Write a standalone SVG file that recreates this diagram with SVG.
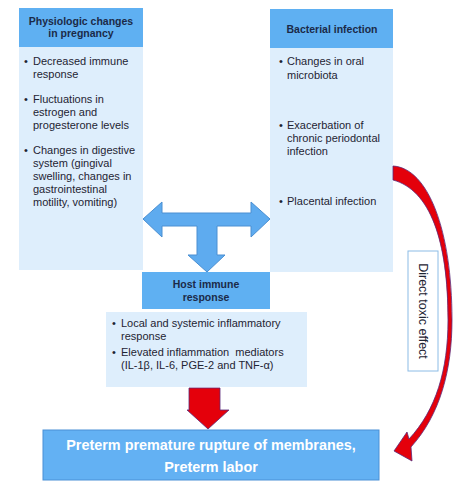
<svg xmlns="http://www.w3.org/2000/svg" width="474" height="491" viewBox="0 0 474 491">
<style>
.hdr{fill:#5fb0f2}
.body{fill:#deeefc}
.ht{font-family:"Liberation Sans",Arial,sans-serif;font-weight:bold;font-size:10.5px;fill:#1b2a48;text-anchor:middle}
.bt{font-family:"Liberation Sans",Arial,sans-serif;font-size:11px;fill:#1e2433}
.blue{fill:#5eabef;stroke:#4a8fd2;stroke-width:1}
.red{fill:#e4000b;stroke:#5a2a78;stroke-width:0.8}
</style>
<rect width="474" height="491" fill="#ffffff"/>
<g id="physiologic">
<rect class="hdr" x="19" y="8" width="124" height="39"/>
<rect class="body" x="19" y="47" width="124" height="223"/>
<text class="ht" x="81" y="25" font-size="10">Physiologic changes</text>
<text class="ht" x="81" y="37">in pregnancy</text>
<g class="bt">
<text x="24" y="65">•</text><text x="33" y="65">Decreased immune</text>
<text x="33" y="78">response</text>
<text x="24" y="103">•</text><text x="33" y="103">Fluctuations in</text>
<text x="33" y="116">estrogen and</text>
<text x="33" y="129">progesterone levels</text>
<text x="24" y="154">•</text><text x="33" y="154">Changes in digestive</text>
<text x="33" y="167">system (gingival</text>
<text x="33" y="180">swelling, changes in</text>
<text x="33" y="193">gastrointestinal</text>
<text x="33" y="206">motility, vomiting)</text>
</g>
</g>
<g id="bacterial">
<rect class="hdr" x="270" y="9" width="123" height="39"/>
<rect class="body" x="270" y="48" width="123" height="224"/>
<text class="ht" x="332" y="33">Bacterial infection</text>
<g class="bt">
<text x="279" y="65">•</text><text x="287" y="65">Changes in oral</text>
<text x="287" y="79">microbiota</text>
<text x="279" y="129">•</text><text x="287" y="129">Exacerbation of</text>
<text x="287" y="142">chronic periodontal</text>
<text x="287" y="155">infection</text>
<text x="279" y="205">•</text><text x="287" y="205">Placental infection</text>
</g>
</g>
<g id="host">
<rect class="hdr" x="142" y="272" width="128" height="37"/>
<rect class="body" x="106" y="312" width="201" height="75"/>
<text class="ht" x="206" y="288">Host immune</text>
<text class="ht" x="206" y="301">response</text>
<g class="bt">
<text x="112" y="327">•</text><text x="121" y="327">Local and systemic inflammatory</text>
<text x="121" y="340">response</text>
<text x="112" y="356">•</text><text x="121" y="356" xml:space="preserve">Elevated inflammation  mediators</text>
<text x="121" y="369">(IL-1β, IL-6, PGE-2 and TNF-α)</text>
</g>
</g>
<g id="outcome">
<rect x="43" y="430" width="336" height="50" fill="#63b1f3" stroke="#4a90d6" stroke-width="1"/>
<g font-family="Liberation Sans,Arial,sans-serif" font-weight="bold" font-size="14.4" fill="#ffffff" text-anchor="middle">
<text x="211" y="450">Preterm premature rupture of membranes,</text>
<text x="211" y="472">Preterm labor</text>
</g>
</g>
<g id="toxic-label">
<rect x="408" y="251" width="30" height="120" fill="#ffffff" stroke="#8cbce6" stroke-width="1"/>
<text transform="translate(423,311) rotate(90)" x="0" y="4" font-family="Liberation Sans,Arial,sans-serif" font-size="12.5" fill="#1e2433" text-anchor="middle">Direct toxic effect</text>
</g>
<g id="connectors">
<polygon class="blue" points="143,219 162,202 162,213 251,213 251,202 270,219 251,237 251,226 217,226 217,255 225,255 207,272 188,255 197,255 197,226 162,226 162,237"/>
<polygon class="red" points="189,388 220,388 220,410 229,410 208,429 187,410 189,410"/>
<path class="red" d="M393,166 C428,168 452,230 452,320 C452,370 440,415 411,447 L412,461 L394,451 L407,432 L409,439 C436,410 448,370 448,320 C448,240 430,190 393,180 Z"/>
</g>
</svg>
